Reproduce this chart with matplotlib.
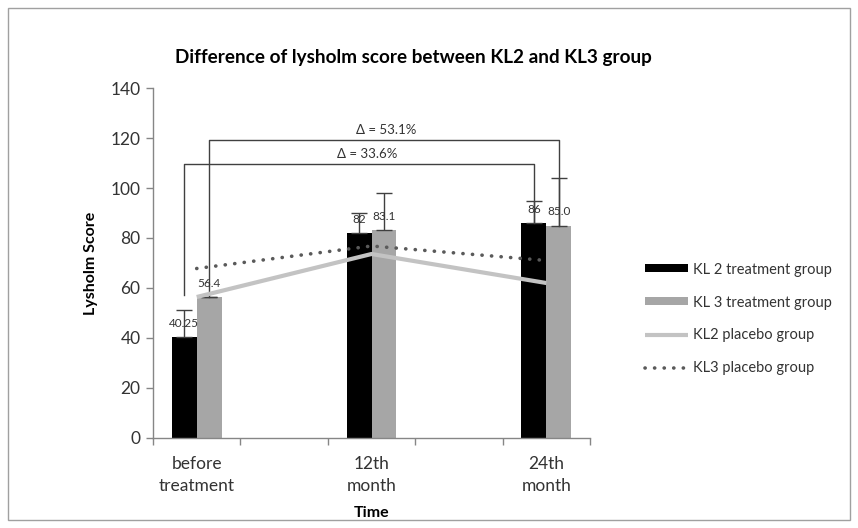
import matplotlib
matplotlib.use("Agg")
import matplotlib.pyplot as plt
from matplotlib.patches import Rectangle

plt.rcParams['font.family'] = ['Lato', 'DejaVu Sans']

# data
categories = ['before\ntreatment', '', '12th\nmonth', '', '24th\nmonth']
kl2_treat = [40.25, None, 82, None, 86]
kl3_treat = [56.4, None, 83.1, None, 85.0]
kl2_err = [11, None, 8, None, 9]
kl3_err = [0, None, 15, None, 19]
kl2_labels = ['40.25', '', '82', '', '86']
kl3_labels = ['56.4', '', '83.1', '', '85.0']
kl2_placebo = [56.4, None, 73.6, None, 62]
kl3_placebo = [67.8, None, 76.8, None, 71]
delta_labels = ['Δ = 33.6%', 'Δ = 53.1%']
bracket_heights = [109.6, 119.2]

fig = plt.figure(figsize=(8.58, 5.28), dpi=100)
ax = fig.add_axes([153 / 858, 90 / 528, 437 / 858, 350 / 528])

w = 0.286
idx = [i for i, v in enumerate(kl2_treat) if v is not None]
x2 = [i - w / 2 for i in idx]
x3 = [i + w / 2 for i in idx]
v2 = [kl2_treat[i] for i in idx]
v3 = [kl3_treat[i] for i in idx]

ax.bar(x2, v2, w, color='black', label='KL 2 treatment group', zorder=2)
ax.bar(x3, v3, w, color='#a6a6a6', label='KL 3 treatment group', zorder=2)

ecol = '#404040'
ax.errorbar(x2, v2, yerr=[[0] * len(idx), [kl2_err[i] for i in idx]], fmt='none',
            ecolor=ecol, elinewidth=1, capsize=6, capthick=1, zorder=3)
ax.errorbar(x3, v3, yerr=[[0] * len(idx), [kl3_err[i] for i in idx]], fmt='none',
            ecolor=ecol, elinewidth=1, capsize=6, capthick=1, zorder=3)

ax.plot(idx, [kl2_placebo[i] for i in idx], color='#c3c3c3', lw=3,
        label='KL2 placebo group', zorder=4, solid_capstyle='butt')
ax.plot(idx, [kl3_placebo[i] for i in idx], color='#5a5a5a', lw=2.6,
        linestyle=(0, (0.05, 2.6)), dash_capstyle='round',
        label='KL3 placebo group', zorder=4)

for xi, v, t in zip(x2, v2, [kl2_labels[i] for i in idx]):
    ax.annotate(t, (xi, v), xytext=(0, 6), textcoords='offset points',
                ha='center', va='bottom', fontsize=8.5, color='#333333', zorder=5)
for xi, v, t in zip(x3, v3, [kl3_labels[i] for i in idx]):
    ax.annotate(t, (xi, v), xytext=(0, 6), textcoords='offset points',
                ha='center', va='bottom', fontsize=8.5, color='#333333', zorder=5)

# brackets between before and 24th month
bcol = '#404040'
ax.plot([x2[0], x2[0], x2[-1], x2[-1]], [57.2, bracket_heights[0], bracket_heights[0], v2[-1]],
        color=bcol, lw=1, zorder=3)
ax.plot([x3[0], x3[0], x3[-1], x3[-1]], [v3[0], bracket_heights[1], bracket_heights[1], v3[-1]],
        color=bcol, lw=1, zorder=3)
ax.text(1.95, bracket_heights[0] + 1.8, delta_labels[0], ha='center', va='bottom',
        fontsize=9.5, color='#333333')
ax.text(2.17, bracket_heights[1] + 1.8, delta_labels[1], ha='center', va='bottom',
        fontsize=9.5, color='#333333')

ax.set_xlim(-0.5, 4.5)
ax.set_ylim(0, 140)
ax.set_yticks(range(0, 141, 20))
ax.set_xticks(range(5))
ax.set_xticklabels(categories, linespacing=1.45)
ax.set_xticks([i - 0.5 for i in range(6)], minor=True)
ax.tick_params(axis='x', which='major', length=0, pad=13, labelsize=12.5, colors='#333333')
ax.tick_params(axis='x', which='minor', length=5, width=1, color='#868686')
ax.tick_params(axis='y', length=5, width=1, color='#868686', labelsize=12.5,
               labelcolor='#333333', pad=4)
for s in ['top', 'right']:
    ax.spines[s].set_visible(False)
for s in ['left', 'bottom']:
    ax.spines[s].set_color('#868686')
    ax.spines[s].set_linewidth(1)

ax.set_ylabel('Lysholm Score', fontsize=11.5, fontweight='bold', labelpad=9)
ax.set_xlabel('Time', fontsize=11.5, fontweight='bold', labelpad=9)
fig.text(0.482, 0.892, 'Difference of lysholm score between KL2 and KL3 group',
         ha='center', va='center', fontsize=13.6, fontweight='bold', color='black')

handles, labels = ax.get_legend_handles_labels()
order = [2, 3, 0, 1]
leg = ax.legend([handles[i] for i in order], [labels[i] for i in order],
                loc='center left', bbox_to_anchor=(1.095, 0.34), frameon=False,
                fontsize=10.5, handlelength=3.0, handleheight=0.45, labelspacing=1.3,
                handletextpad=0.35)
for t in leg.get_texts():
    t.set_color('#333333')

fig.patches.append(Rectangle((8 / 858, 8 / 528), 842 / 858, 512 / 528,
                             transform=fig.transFigure, fill=False,
                             edgecolor='#a0a0a0', lw=1))

fig.savefig('out.png', dpi=100)
